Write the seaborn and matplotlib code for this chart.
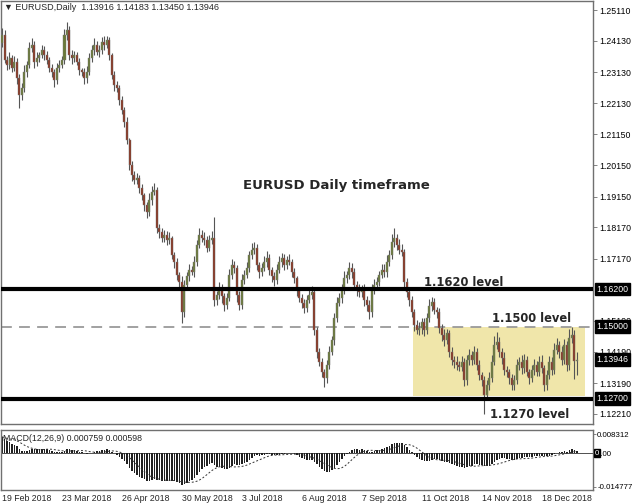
import numpy as np
import pandas as pd
import matplotlib
matplotlib.use("Agg")
import matplotlib.pyplot as plt
import seaborn as sns
from matplotlib.patches import Rectangle

# ---- data (daily bars, 19 Feb 2018 -> end Dec 2018) ----
closes = [
    1.2431, 1.2351, 1.2335, 1.2358, 1.2326, 1.2345, 1.2294, 1.2239, 1.2262, 1.2313,
    1.2335, 1.2390, 1.2399, 1.2345, 1.2358, 1.2367, 1.2383, 1.2367, 1.2351, 1.2326,
    1.2313, 1.2287, 1.2326, 1.2335, 1.2351, 1.2431, 1.2447, 1.2367, 1.2358, 1.2367,
    1.2345, 1.2319, 1.2313, 1.2294, 1.2313, 1.2358, 1.2383, 1.2399, 1.2377, 1.2383,
    1.2409, 1.2399, 1.2415, 1.2367, 1.2303, 1.2271, 1.2262, 1.2223, 1.2192, 1.2153,
    1.2096, 1.2016, 1.1984, 1.1968, 1.1974, 1.1942, 1.1920, 1.1888, 1.1866, 1.1904,
    1.1930, 1.1936, 1.1815, 1.1802, 1.1783, 1.1792, 1.1777, 1.1783, 1.1729, 1.1706,
    1.1665, 1.1642, 1.1546, 1.1633, 1.1661, 1.1681, 1.1674, 1.1706, 1.1762, 1.1792,
    1.1783, 1.1777, 1.1751, 1.1777, 1.1783, 1.1585, 1.1601, 1.1623, 1.1597, 1.1569,
    1.1591, 1.1665, 1.1697, 1.1687, 1.1601, 1.1569, 1.1649, 1.1665, 1.1687, 1.1729,
    1.1745, 1.1751, 1.1697, 1.1674, 1.1687, 1.1706, 1.1719, 1.1681, 1.1661, 1.1649,
    1.1681, 1.1706, 1.1719, 1.1697, 1.1713, 1.1706, 1.1674, 1.1655, 1.1617, 1.1591,
    1.1575, 1.1559, 1.1585, 1.1601, 1.1610, 1.1489, 1.1419, 1.1387, 1.1355, 1.1335,
    1.1377, 1.1419, 1.1457, 1.1527, 1.1575, 1.1591, 1.1617, 1.1655, 1.1665, 1.1687,
    1.1674, 1.1633, 1.1617, 1.1610, 1.1623, 1.1585, 1.1569, 1.1546, 1.1617, 1.1633,
    1.1642, 1.1665, 1.1681, 1.1674, 1.1706, 1.1729, 1.1770, 1.1783, 1.1762, 1.1745,
    1.1738, 1.1642, 1.1610, 1.1585, 1.1546, 1.1505, 1.1489, 1.1495, 1.1514, 1.1489,
    1.1527, 1.1566, 1.1578, 1.1553, 1.1546, 1.1495, 1.1473, 1.1457, 1.1479, 1.1419,
    1.1393, 1.1387, 1.1377, 1.1371, 1.1387, 1.1329, 1.1393, 1.1409, 1.1393, 1.1419,
    1.1377, 1.1345, 1.1329, 1.1281, 1.1313, 1.1335, 1.1387, 1.1441, 1.1451, 1.1419,
    1.1400, 1.1361, 1.1355, 1.1335, 1.1313, 1.1329, 1.1377, 1.1387, 1.1367, 1.1393,
    1.1355, 1.1335, 1.1361, 1.1377, 1.1355, 1.1387, 1.1367, 1.1313, 1.1345, 1.1387,
    1.1361, 1.1425, 1.1441, 1.1419, 1.1393, 1.1441, 1.1377, 1.1463, 1.1473, 1.13916,
    1.13946,
]

# wick lengths in pips above the body top / below the body bottom
upper_wick = [
    22, 15, 12, 20, 10, 18, 14, 12, 16, 22, 14, 20, 24, 12, 18, 10, 16, 12, 14, 10,
    12, 10, 16, 18, 14, 20, 26, 12, 18, 14, 10, 12, 8, 14, 20, 16, 18, 22, 12, 18,
    16, 20, 14, 10, 8, 12, 14, 10, 12, 10, 16, 8, 14, 12, 18, 10, 14, 8, 10, 22,
    18, 24, 10, 14, 12, 16, 14, 18, 8, 10, 12, 10, 20, 16, 14, 18, 12, 20, 16, 24,
    18, 20, 12, 16, 22, 67, 14, 18, 12, 10, 16, 20, 18, 12, 10, 14, 18, 16, 20, 14,
    22, 18, 14, 10, 16, 20, 24, 12, 10, 14, 18, 20, 16, 14, 12, 18, 10, 12, 8, 10,
    12, 14, 16, 18, 20, 8, 10, 12, 14, 10, 16, 20, 14, 18, 20, 16, 18, 22, 14, 20,
    16, 12, 14, 18, 10, 12, 14, 16, 20, 18, 16, 14, 20, 18, 22, 16, 26, 32, 14, 18,
    20, 10, 12, 8, 14, 10, 16, 20, 12, 14, 18, 22, 16, 12, 10, 14, 12, 18, 14, 10,
    16, 12, 18, 14, 20, 12, 16, 20, 14, 18, 12, 16, 10, 14, 18, 20, 22, 28, 32, 16,
    14, 18, 12, 10, 14, 18, 20, 16, 22, 18, 14, 10, 16, 20, 12, 18, 22, 12, 16, 20,
    16, 24, 22, 14, 18, 20, 14, 28, 27, 17, 23.7,
]
lower_wick = [
    12, 10, 16, 12, 14, 10, 18, 40, 14, 12, 16, 10, 12, 18, 14, 12, 10, 16, 12, 14,
    16, 22, 12, 14, 10, 12, 16, 14, 18, 12, 10, 14, 12, 18, 16, 10, 12, 14, 10, 16,
    12, 14, 10, 16, 12, 18, 14, 16, 12, 14, 12, 16, 18, 14, 12, 16, 14, 18, 20, 12,
    14, 10, 16, 18, 12, 14, 16, 12, 14, 18, 16, 20, 36, 14, 12, 16, 10, 14, 12, 10,
    14, 16, 12, 10, 14, 18, 16, 14, 20, 18, 12, 10, 14, 16, 22, 16, 12, 14, 10, 12,
    14, 12, 16, 18, 12, 10, 14, 16, 18, 20, 12, 10, 14, 16, 12, 10, 14, 16, 18, 12,
    14, 16, 12, 10, 14, 16, 18, 14, 16, 29, 14, 12, 10, 16, 12, 10, 14, 12, 16, 14,
    18, 16, 20, 16, 14, 18, 20, 23, 16, 12, 14, 12, 10, 16, 14, 12, 14, 16, 18, 14,
    12, 16, 14, 18, 16, 20, 14, 16, 20, 18, 14, 12, 16, 14, 18, 16, 20, 18, 14, 16,
    14, 18, 16, 12, 14, 18, 16, 14, 16, 12, 16, 14, 18, 59, 16, 14, 12, 10, 14, 16,
    18, 14, 16, 18, 14, 16, 12, 14, 18, 16, 14, 18, 12, 16, 14, 12, 16, 20, 14, 12,
    16, 12, 14, 18, 16, 12, 20, 14, 16, 60, 46.6,
]

# closes before the visible window (Nov 2017 - 16 Feb 2018), only to seed the MACD
warmup_closes = [
    1.1790, 1.1735, 1.1820, 1.1855, 1.1930, 1.1895, 1.1845, 1.1845, 1.1905, 1.1895,
    1.1865, 1.1825, 1.1795, 1.1775, 1.1770, 1.1775, 1.1740, 1.1825, 1.1780, 1.1750,
    1.1780, 1.1835, 1.1875, 1.1865, 1.1860, 1.1865, 1.1860, 1.1895, 1.1945, 1.2005,
    1.2010, 1.2060, 1.2015, 1.2070, 1.2030, 1.1965, 1.1935, 1.1950, 1.2035, 1.2200,
    1.2265, 1.2260, 1.2200, 1.2235, 1.2220, 1.2260, 1.2300, 1.2410, 1.2395, 1.2425,
    1.2380, 1.2410, 1.2415, 1.2510, 1.2460, 1.2370, 1.2375, 1.2270, 1.2250, 1.2250,
    1.2290, 1.2355, 1.2450, 1.2505, 1.2405,
]

date_labels = ["19 Feb 2018", "23 Mar 2018", "26 Apr 2018", "30 May 2018", "3 Jul 2018",
               "6 Aug 2018", "7 Sep 2018", "11 Oct 2018", "14 Nov 2018", "18 Dec 2018"]
price_ticks = [1.25110, 1.24130, 1.23130, 1.22130, 1.21150, 1.20150, 1.19150,
               1.18170, 1.17170, 1.15190, 1.14190, 1.13190, 1.12210]
macd_ticks = [0.008312, 0.0, -0.014777]
level_162 = 1.1620
level_150 = 1.1500
level_127 = 1.1270
box_low = 1.1280
header = "\u25BC EURUSD,Daily  1.13916 1.14183 1.13450 1.13946"
macd_header = "MACD(12,26,9) 0.000759 0.000598"

# ---- build the frame ----
df = pd.DataFrame({"close": closes})
df["open"] = [warmup_closes[-1]] + closes[:-1]
df["high"] = df[["open", "close"]].max(axis=1) + np.array(upper_wick) * 0.0001
df["low"] = df[["open", "close"]].min(axis=1) - np.array(lower_wick) * 0.0001
df["idx"] = np.arange(len(df))

full = pd.Series(warmup_closes + closes)
macd_full = full.ewm(span=12, adjust=False).mean() - full.ewm(span=26, adjust=False).mean()
signal_full = macd_full.rolling(9).mean()
df["macd"] = macd_full.iloc[len(warmup_closes):].values
df["signal"] = signal_full.iloc[len(warmup_closes):].values

sns.set_style("white")
plt.rcParams["font.family"] = ["Liberation Sans", "DejaVu Sans"]

W, H = 633, 504
fig = plt.figure(figsize=(W / 100, H / 100), dpi=100)
ax = fig.add_axes([1 / W, 1 - 424 / H, 592 / W, 423 / H])
ax2 = fig.add_axes([1 / W, 1 - 490 / H, 592 / W, 60 / H])

frame = "#707070"
for a in (ax, ax2):
    for s in a.spines.values():
        s.set_color(frame)
        s.set_linewidth(1)
    a.set_xlim(-0.4, 236.4)
    a.yaxis.tick_right()
ax.tick_params(axis="y", labelsize=6.3, length=3, width=0.6, color=frame, pad=1.5,
               labelcolor="black")
ax2.tick_params(axis="y", labelsize=5.7, length=2, width=0.6, color=frame, pad=1,
                labelcolor="black")

# ---- main pane ----
ax.set_ylim(1.1189, 1.2540)
ax.add_patch(Rectangle((164.4, box_low), 233.2 - 164.4, level_150 - box_low,
                       facecolor="#f0e6aa", edgecolor="none", zorder=0))
ax.axhline(level_150, color="#9a9a9a", lw=1.3, ls=(0, (6, 4)), zorder=1)
ax.axhline(level_162, color="black", lw=3, zorder=4)
ax.axhline(level_127, color="black", lw=3, zorder=4)

bull = df["close"] >= df["open"]
colors = np.where(bull, "#6b7a38", "#8a3520")
ax.vlines(df["idx"], df["low"], df["high"], color="#555555", lw=0.8, zorder=2)
ax.bar(df["idx"], (df["close"] - df["open"]).where(lambda s: s.abs() > 0.00008, 0.00008),
       bottom=df["open"], width=0.8, color=colors, edgecolor="#777777", linewidth=0.3, zorder=3)

ax.set_yticks(price_ticks)
ax.set_yticklabels([f"{p:.5f}" for p in price_ticks])
ax.set_xticks([])

for lvl in (level_162, level_150, closes[-1], level_127):
    ax.annotate(f"{lvl:.5f}", xy=(1.0, lvl), xycoords=("axes fraction", "data"),
                xytext=(2.5, 0), textcoords="offset points", fontsize=6.3, color="white",
                va="center", ha="left", annotation_clip=False,
                bbox=dict(boxstyle="square,pad=0.2", fc="black", ec="black"))

fig.text(4 / W, 1 - 8 / H, header, fontsize=6.5, va="center", ha="left")
fig.text(336 / W, 1 - 186 / H, "EURUSD Daily timeframe", fontsize=9.5,
         fontweight="bold", ha="center", va="center", family="DejaVu Sans")
for txt, x, y in (("1.1620 level", 424, 282), ("1.1500 level", 492, 319),
                  ("1.1270 level", 490, 414)):
    fig.text(x / W, 1 - y / H, txt, fontsize=8.3, fontweight="bold", va="center",
             family="DejaVu Sans")

# ---- MACD pane ----
ax2.set_ylim(-0.016084, 0.010055)
ax2.axhline(0, color="#333333", lw=0.6)
ax2.bar(df["idx"], df["macd"], width=0.75, color="#202020", linewidth=0,
        antialiased=False, zorder=2)
sns.lineplot(x=df["idx"], y=df["signal"], ax=ax2, color="#333333", lw=0.7,
             linestyle=(0, (2, 2)), zorder=3)
ax2.set_ylabel("")
ax2.set_yticks(macd_ticks)
ax2.set_yticklabels(["0.008312", "0.00", "-0.014777"])
ax2.annotate("0", xy=(1.0, 0), xycoords=("axes fraction", "data"), xytext=(1.5, 0),
             textcoords="offset points", fontsize=5.7, color="white", va="center", ha="left",
             annotation_clip=False, bbox=dict(boxstyle="square,pad=0.1", fc="black", ec="black"))
ax2.text(2 / 592, 0.93, macd_header, transform=ax2.transAxes, fontsize=6.3, va="top", ha="left")

ax2.set_xticks(np.arange(len(date_labels)) * 24)
ax2.set_xticklabels(date_labels, ha="left")
ax2.tick_params(axis="x", labelsize=6.3, length=2, width=0.6, color=frame, pad=1)
ax2.set_xlabel("")

fig.savefig("out.png", dpi=100)
